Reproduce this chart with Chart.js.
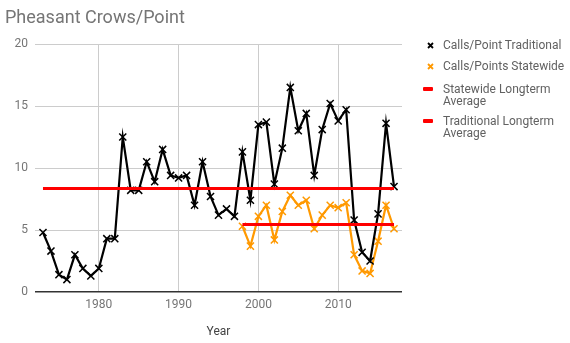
<!DOCTYPE html>
<html>
<head>
<meta charset="utf-8">
<script src="https://cdn.jsdelivr.net/npm/chart.js@4.4.1/dist/chart.umd.min.js"></script>
<style>
    body { margin: 0; background: #fff; font-family: Roboto, "Noto Sans", sans-serif; }
    #wrap { position: relative; width: 570px; height: 343px; }
    #title { position: absolute; left: 5px; top: 8px; font-size: 18px; line-height: 18px; color: #757575; }
    .lg { position: absolute; left: 443px; font-size: 12px; line-height: 12px; color: #616161; }
    .mk { position: absolute; }
</style>
</head>
<body>
<div id="wrap">
    <canvas id="chart" width="570" height="343"></canvas>
    <div id="title">Pheasant Crows/Point</div>

    <svg class="mk" style="left:427px;top:42px" width="7" height="7"><path d="M1 1L6 6M6 1L1 6" stroke="#000" stroke-width="1.8"/></svg>
    <div class="lg" style="top:39px">Calls/Point Traditional</div>

    <svg class="mk" style="left:427px;top:63px" width="7" height="7"><path d="M1 1L6 6M6 1L1 6" stroke="#ff9900" stroke-width="1.8"/></svg>
    <div class="lg" style="top:60px">Calls/Points Statewide</div>

    <div class="mk" style="left:423px;top:87px;width:10px;height:4px;background:#ff0000;border-radius:1px"></div>
    <div class="lg" style="top:83px">Statewide Longterm<br>Average</div>

    <div class="mk" style="left:423px;top:119px;width:10px;height:4px;background:#ff0000;border-radius:1px"></div>
    <div class="lg" style="top:115px">Traditional Longterm<br>Average</div>
</div>

<script>
// Data
// ----------------------------------------------
const tradYears = [1973, 1974, 1975, 1976, 1977, 1978, 1979, 1980, 1981, 1982, 1983, 1984, 1985, 1986, 1987,
                   1988, 1989, 1990, 1991, 1992, 1993, 1994, 1995, 1996, 1997, 1998, 1999, 2000, 2001, 2002,
                   2003, 2004, 2005, 2006, 2007, 2008, 2009, 2010, 2011, 2012, 2013, 2014, 2015, 2016, 2017];
const traditional = [4.8, 3.3, 1.4, 1.0, 3.0, 1.9, 1.3, 1.9, 4.3, 4.3, 12.5, 8.2, 8.2, 10.5, 8.9,
                     11.5, 9.4, 9.2, 9.4, 7.0, 10.5, 7.7, 6.2, 6.7, 6.1, 11.3, 7.4, 13.5, 13.7, 8.7,
                     11.6, 16.5, 13.0, 14.4, 9.4, 13.1, 15.2, 13.8, 14.7, 5.8, 3.2, 2.5, 6.3, 13.6, 8.5];

const stateYears = [1998, 1999, 2000, 2001, 2002, 2003, 2004, 2005, 2006, 2007,
                    2008, 2009, 2010, 2011, 2012, 2013, 2014, 2015, 2016, 2017];
const statewide = [5.3, 3.7, 6.1, 7.0, 4.2, 6.5, 7.8, 7.0, 7.4, 5.1,
                   6.2, 7.0, 6.8, 7.2, 3.0, 1.7, 1.5, 4.1, 7.0, 5.1];

const statewideAvg   = 5.45;
const traditionalAvg = 8.35;

const xTicks = [1980, 1990, 2000, 2010];
const yTicks = [0, 5, 10, 15, 20];

const toPoints = (xs, ys) => xs.map((x, i) => ({ x: x, y: ys[i] }));
const avgLine  = (xs, v) => [{ x: xs[0], y: v }, { x: xs[xs.length - 1], y: v }];

const tickFont  = { family: 'Roboto', size: 12 };
const mutedText = '#757575';

new Chart(document.getElementById('chart'), {
    type: 'line',
    data: {
        datasets: [
            {
                label: 'Statewide Longterm Average',
                data: avgLine(stateYears, statewideAvg),
                borderColor: '#ff0000',
                borderWidth: 3,
                pointRadius: 0,
                order: 0
            },
            {
                label: 'Traditional Longterm Average',
                data: avgLine(tradYears, traditionalAvg),
                borderColor: '#ff0000',
                borderWidth: 3,
                pointRadius: 0,
                order: 0
            },
            {
                label: 'Calls/Points Statewide',
                data: toPoints(stateYears, statewide),
                borderColor: '#ff9900',
                backgroundColor: '#ff9900',
                borderWidth: 2.2,
                pointStyle: 'crossRot',
                pointRadius: 5,
                pointBorderWidth: 1.5,
                order: 2
            },
            {
                label: 'Calls/Point Traditional',
                data: toPoints(tradYears, traditional),
                borderColor: '#000',
                backgroundColor: '#000',
                borderWidth: 2.2,
                pointStyle: 'crossRot',
                pointRadius: 5,
                pointBorderWidth: 1.5,
                order: 1
            }
        ]
    },
    options: {
        responsive: false,
        animation: false,
        layout: { padding: { left: 0, right: 168, top: 44, bottom: 0 } },
        plugins: {
            legend: { display: false },
            tooltip: { enabled: false }
        },
        scales: {
            x: {
                type: 'linear',
                min: 1972,
                max: 2018,
                afterBuildTicks: s => { s.ticks = xTicks.map(v => ({ value: v })); },
                afterFit: s => { s.height = 51; },
                border: { display: false },
                grid: { color: '#cccccc', drawTicks: false },
                ticks: { font: tickFont, color: mutedText, padding: 6, callback: v => String(v) },
                title: { display: true, text: 'Year', font: tickFont, color: '#424242', padding: { top: 14 } }
            },
            y: {
                min: 0,
                max: 20,
                afterBuildTicks: s => { s.ticks = yTicks.map(v => ({ value: v })); },
                afterFit: s => { s.width = 35; },
                border: { display: false },
                grid: { color: c => c.tick.value === 0 ? '#333333' : '#cccccc', lineWidth: c => c.tick.value === 0 ? 1.5 : 1, drawTicks: false },
                ticks: { font: tickFont, color: mutedText, padding: 7 }
            }
        }
    }
});
</script>
</body>
</html>
